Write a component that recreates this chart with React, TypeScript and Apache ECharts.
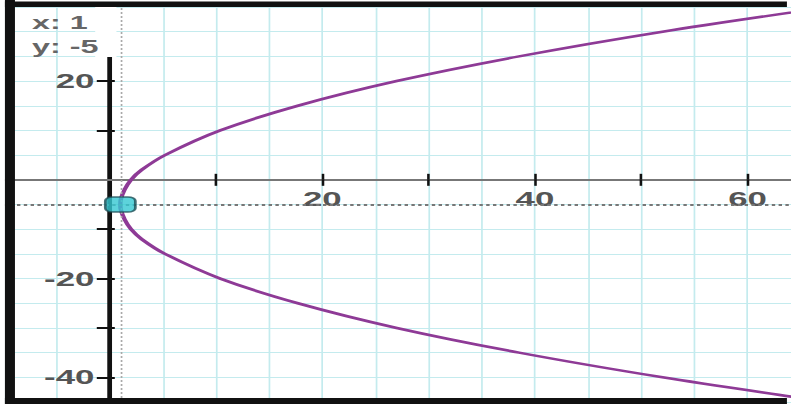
import React, { useEffect, useRef } from "react";
import * as echarts from "echarts";

// Parabola (points along the curve, ordered bottom to top)
const curveY = [-45, -44, -40, -35, -30, -25, -20, -15, -12, -10, -8, -6, -5, -4, -2, 0, 2, 5, 10, 15, 20, 25, 30, 35];
const curveX = [67.7, 64.4, 52.0, 38.5, 27.0, 17.7, 10.4, 5.2, 3.0, 2.0, 1.4, 1.04, 1.0, 1.04, 1.4, 2.0, 3.0, 5.2, 10.4, 17.7, 27.0, 38.5, 52.0, 67.7];

// Trace cursor
const cursorX = 1;
const cursorY = -5;
const cursorText = ["x: 1", "y: -5"];

// Axis ticks / labels
const xTickValues = [10, 20, 30, 40, 50, 60];
const xLabelValues = [20, 40, 60];
const yTickValues = [-40, -30, -20, -10, 10, 20, 30];
const yLabelValues = [-40, -20, 20];

// Window
const xMin = -10;
const xMax = 65;
const yMin = -45;
const yMax = 35;

// The reference is a horizontally stretched calculator screen
const S = 1.7;
const IW = 471;
const IH = 404;
const G = { left: 2, right: 0, top: 7, bottom: 2 };

export default function App() {
  const ref = useRef<HTMLDivElement>(null);

  useEffect(() => {
    if (!ref.current) return;
    const chart = echarts.init(ref.current, null, { renderer: "svg", width: IW, height: IH });

    const gw = IW - G.left - G.right;
    const gh = IH - G.top - G.bottom;
    // place the axes through the origin (distance of zero from the grid edge)
    const yAxisOffset = -((0 - xMin) / (xMax - xMin)) * gw;
    const xAxisOffset = -((0 - yMin) / (yMax - yMin)) * gh;

    const xr = { type: "value", min: xMin, max: xMax, position: "bottom", gridIndex: 0 };
    const yr = { type: "value", min: yMin, max: yMax, position: "left", gridIndex: 0 };
    const labelStyle = {
      color: "#555",
      fontSize: 20.5,
      fontWeight: "bold",
      fontFamily: "'Liberation Sans', Arial, sans-serif",
    };
    const gridLine = { show: true, lineStyle: { color: "#c4ebee", width: 1 } };

    const option: any = {
      animation: false,
      backgroundColor: "#ffffff",
      grid: { ...G, containLabel: false, outerBoundsMode: "none" },
      xAxis: [
        {
          ...xr,
          interval: 5,
          splitLine: gridLine,
          axisLine: { show: false, onZero: false },
          axisTick: { show: false },
          axisLabel: { show: false },
        },
        {
          ...xr,
          offset: xAxisOffset,
          splitLine: { show: false },
          axisLine: { show: false, onZero: false },
          axisTick: { show: true, inside: true, length: 6, customValues: xTickValues, lineStyle: { color: "#111", width: 1.5 } },
          axisLabel: { show: false },
        },
        {
          ...xr,
          offset: xAxisOffset,
          splitLine: { show: false },
          axisLine: { show: true, onZero: false, lineStyle: { color: "#777", width: 2 } },
          axisTick: { show: true, inside: false, length: 6, customValues: xTickValues, lineStyle: { color: "#111", width: 1.5 } },
          axisLabel: { show: true, customValues: xLabelValues, margin: 9, ...labelStyle },
        },
      ],
      yAxis: [
        {
          ...yr,
          interval: 5,
          splitLine: gridLine,
          axisLine: { show: false, onZero: false },
          axisTick: { show: false },
          axisLabel: { show: false },
        },
        {
          ...yr,
          offset: yAxisOffset,
          splitLine: { show: false },
          axisLine: { show: false, onZero: false },
          axisTick: { show: true, inside: true, length: 3, customValues: yTickValues, lineStyle: { color: "#111", width: 2 } },
          axisLabel: { show: false },
        },
        {
          ...yr,
          offset: yAxisOffset,
          splitLine: { show: false },
          axisLine: { show: true, onZero: false, lineStyle: { color: "#111", width: 2.8 } },
          axisTick: { show: true, inside: false, length: 7.6, customValues: yTickValues, lineStyle: { color: "#111", width: 2 } },
          axisLabel: { show: true, customValues: yLabelValues, margin: 9, ...labelStyle },
        },
      ],
      series: [
        {
          type: "line",
          xAxisIndex: 0,
          yAxisIndex: 0,
          data: curveX.map((x, i) => [x, curveY[i]]),
          smooth: 0.3,
          symbol: "none",
          showSymbol: false,
          clip: true,
          lineStyle: { color: "#8e3a96", width: 2.6 },
          z: 3,
        },
        {
          type: "scatter",
          xAxisIndex: 0,
          yAxisIndex: 0,
          data: [[cursorX, cursorY]],
          symbol: "roundRect",
          symbolSize: [30 / S, 15],
          itemStyle: { color: "#35c8d2", borderColor: "#1d4d55", borderWidth: 1.5 },
          z: 6,
          markLine: {
            silent: true,
            symbol: ["none", "none"],
            label: { show: false },
            z: 4,
            data: [
              { xAxis: cursorX, lineStyle: { color: "#aaa", width: 1, type: [2, 2] } },
              { yAxis: cursorY, lineStyle: { color: "#777", width: 2, type: [2, 2] } },
            ],
          },
        },
      ],
      graphic: [
        { type: "rect", z: 100, shape: { x: 56, y: 7, width: 12.5, height: 50 }, style: { fill: "#fff" } },
        { type: "rect", z: 100, shape: { x: 0, y: 0, width: 2.9, height: IH }, style: { fill: "#fff" } },
        { type: "rect", z: 101, shape: { x: 2.9, y: 0, width: 5.9, height: IH }, style: { fill: "#111" } },
        { type: "rect", z: 101, shape: { x: 2.9, y: 1.5, width: 460, height: 5.5 }, style: { fill: "#111" } },
        { type: "rect", z: 101, shape: { x: 2.9, y: 398, width: 460, height: 6 }, style: { fill: "#111" } },
        {
          type: "text",
          z: 102,
          x: 18.8,
          y: 23,
          style: { text: cursorText[0], fill: "#666", fontSize: 19, fontWeight: "bold", fontFamily: "'Liberation Sans', Arial, sans-serif", verticalAlign: "middle" },
        },
        {
          type: "text",
          z: 102,
          x: 18.8,
          y: 47,
          style: { text: cursorText[1], fill: "#666", fontSize: 19, fontWeight: "bold", fontFamily: "'Liberation Sans', Arial, sans-serif", verticalAlign: "middle" },
        },
      ],
    };

    chart.setOption(option);
    return () => chart.dispose();
  }, []);

  return (
    <div style={{ position: "absolute", left: 0, top: 0, width: 791, height: 404, overflow: "hidden", background: "#fff" }}>
      <div
        ref={ref}
        style={{ width: IW, height: IH, transform: `scaleX(${S})`, transformOrigin: "0 0" }}
      />
    </div>
  );
}
